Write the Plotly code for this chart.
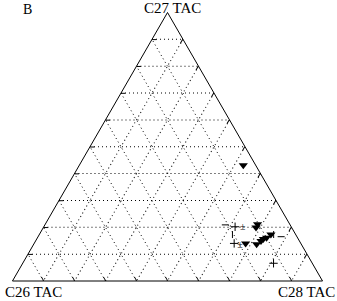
import plotly.graph_objects as go

# Ternary coordinates in %: a = C27 TAC (top), b = C26 TAC (left), c = C28 TAC (right)
tri_a = [43.1, 21.1, 19.9, 17.3, 15.6, 14.9, 16.1, 14.0, 13.7]
tri_b = [4.0, 10.4, 11.5, 8.0, 11.3, 12.4, 10.0, 17.8, 14.4]
tri_c = [52.9, 68.5, 68.6, 74.7, 73.1, 72.7, 73.9, 68.2, 71.9]

plus_a = [20.2, 14.0, 6.6]
plus_b = [18.1, 21.5, 12.5]
plus_c = [61.7, 64.5, 80.9]

pm_a = [19.9, 13.4]
pm_b = [15.8, 19.9]
pm_c = [64.3, 66.7]

dash_a = [20.9, 16.5]
dash_b = [20.9, 5.1]
dash_c = [58.2, 78.4]

bar_a = [17.3, 17.3]
bar_b = [20.4, 7.1]
bar_c = [62.3, 75.5]

axis_titles = {"a": "C27 TAC", "b": "C26 TAC", "c": "C28 TAC"}
panel_label = "B"

W, H = 337, 301
fig = go.Figure()
fig.add_trace(go.Scatterternary(a=tri_a, b=tri_b, c=tri_c, mode="markers",
                                marker=dict(symbol="triangle-down", size=8, color="black"),
                                showlegend=False))
fig.add_trace(go.Scatterternary(a=plus_a, b=plus_b, c=plus_c, mode="markers",
                                marker=dict(symbol="cross-thin", size=6, line=dict(color="black", width=1)),
                                showlegend=False))
fig.add_trace(go.Scatterternary(a=pm_a, b=pm_b, c=pm_c, mode="text", text=["±"] * len(pm_a),
                                textfont=dict(family="Liberation Serif", size=10, color="black"),
                                showlegend=False))
fig.add_trace(go.Scatterternary(a=dash_a, b=dash_b, c=dash_c, mode="markers",
                                marker=dict(symbol="line-ew", size=5, line=dict(color="black", width=1)),
                                showlegend=False))
fig.add_trace(go.Scatterternary(a=bar_a, b=bar_b, c=bar_c, mode="markers",
                                marker=dict(symbol="line-ns", size=5, line=dict(color="black", width=1)),
                                showlegend=False))

ax = dict(showticklabels=False, ticks="inside", ticklen=4, tickcolor="black", dtick=10,
          linecolor="black", linewidth=1, showline=True,
          showgrid=True, gridcolor="black", gridwidth=1, griddash="1px,3px", title=dict(text=""))

top, bottom = 12.5, 281
fig.update_layout(
    width=W, height=H, margin=dict(l=0, r=0, t=0, b=0),
    paper_bgcolor="white", plot_bgcolor="white",
    ternary=dict(sum=100, bgcolor="white",
                 domain=dict(x=[12 / W, 323 / W], y=[(H - bottom) / H, (H - top) / H]),
                 aaxis=ax, baxis=ax, caxis=ax),
    font=dict(family="Liberation Serif", color="black"),
    annotations=[
        dict(text=axis_titles["a"], x=172 / W, y=(H - 8) / H, xref="paper", yref="paper",
             showarrow=False, font=dict(size=15), xanchor="center", yanchor="middle"),
        dict(text=axis_titles["b"], x=33 / W, y=(H - 292) / H, xref="paper", yref="paper",
             showarrow=False, font=dict(size=15), xanchor="center", yanchor="middle"),
        dict(text=axis_titles["c"], x=306 / W, y=(H - 292) / H, xref="paper", yref="paper",
             showarrow=False, font=dict(size=15), xanchor="center", yanchor="middle"),
        dict(text=panel_label, x=27 / W, y=(H - 10) / H, xref="paper", yref="paper",
             showarrow=False, font=dict(size=14), xanchor="center", yanchor="middle"),
    ],
)
fig.write_html("out.html", config={"displayModeBar": False},
               post_script="document.body.style.margin='0';document.body.style.overflow='hidden';")
